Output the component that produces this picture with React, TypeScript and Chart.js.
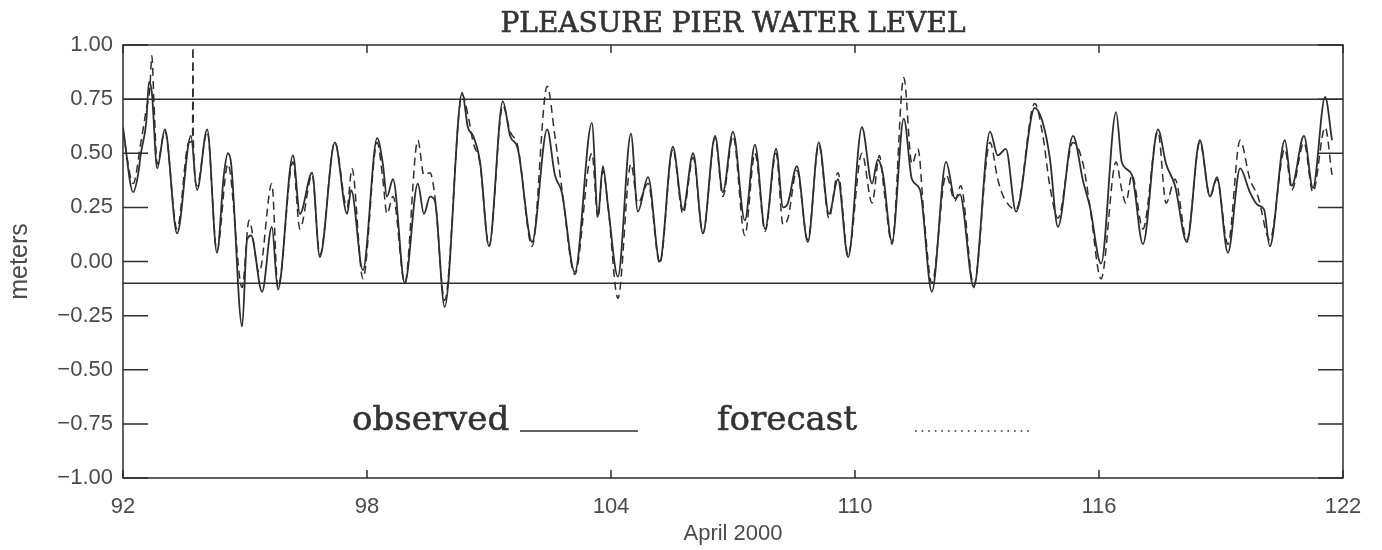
import React, { useEffect, useRef } from "react";
import { Chart, registerables } from "chart.js";

Chart.register(...registerables);

const TITLE = "PLEASURE PIER WATER LEVEL";
const X_LABEL = "April 2000";
const Y_LABEL = "meters";
const X_TICKS = [92, 98, 104, 110, 116, 122];
const Y_TICKS = [-1, -0.75, -0.5, -0.25, 0, 0.25, 0.5, 0.75, 1];
const REF_LINES = [0.75, -0.1];
const LEGEND_OBS = "observed";
const LEGEND_FC = "forecast";

const OBS_DAYS = [
  92.0, 92.25, 92.37, 92.44, 92.57, 92.64, 92.71, 92.84, 93.03, 93.33, 93.67, 93.82, 94.07, 94.31, 94.48, 94.58, 94.66,
  94.93, 95.05, 95.15, 95.42, 95.66, 95.81, 96.18, 96.35, 96.65, 96.84, 97.21, 97.51, 97.61, 97.9, 98.25, 98.39, 98.49,
  98.64, 98.93, 99.25, 99.4, 99.55, 99.67, 99.91, 100.34, 100.48, 100.61, 100.78, 101.0, 101.34, 101.52, 101.71, 102.06,
  102.43, 102.62, 102.79, 103.11, 103.53, 103.68, 103.8, 103.93, 104.17, 104.49, 104.66, 104.91, 105.2, 105.52, 105.77,
  106.02, 106.26, 106.56, 106.75, 107.0, 107.29, 107.54, 107.79, 108.06, 108.23, 108.35, 108.57, 108.84, 109.11, 109.36,
  109.58, 109.83, 110.17, 110.42, 110.56, 110.69, 110.91, 111.2, 111.4, 111.6, 111.89, 112.24, 112.46, 112.58, 112.92,
  113.32, 113.51, 113.71, 113.96, 114.42, 114.62, 114.79, 114.99, 115.36, 115.61, 115.78, 116.05, 116.42, 116.56, 116.81,
  117.08, 117.45, 117.65, 117.87, 118.16, 118.48, 118.73, 118.9, 119.17, 119.47, 119.71, 119.91, 120.06, 120.2, 120.57,
  120.74, 121.04, 121.26, 121.56, 121.73,
];
const OBS_LEVELS = [
  0.62, 0.32, 0.4, 0.5, 0.64, 0.83, 0.78, 0.43, 0.61, 0.13, 0.58, 0.33, 0.61, 0.04, 0.4, 0.5, 0.45,
  -0.3, 0.1, 0.12, -0.14, 0.16, -0.13, 0.49, 0.22, 0.41, 0.02, 0.55, 0.22, 0.33, -0.04, 0.57, 0.45, 0.3,
  0.38, -0.1, 0.36, 0.22, 0.3, 0.28, -0.21, 0.78, 0.62, 0.58, 0.46, 0.07, 0.74, 0.58, 0.52, 0.09,
  0.61, 0.4, 0.32, -0.05, 0.64, 0.21, 0.44, 0.25, -0.07, 0.59, 0.23, 0.39, 0.0, 0.53, 0.24,
  0.5, 0.13, 0.58, 0.32, 0.6, 0.19, 0.54, 0.15, 0.52, 0.25, 0.27, 0.44, 0.09, 0.55, 0.22,
  0.38, 0.02, 0.62, 0.36, 0.47, 0.4, 0.09, 0.66, 0.38, 0.33, -0.14, 0.46, 0.29, 0.31, -0.12,
  0.6, 0.49, 0.52, 0.23, 0.71, 0.64, 0.48, 0.16, 0.58, 0.37, 0.25, -0.01, 0.69, 0.46, 0.4,
  0.08, 0.61, 0.45, 0.35, 0.09, 0.56, 0.3, 0.39, 0.04, 0.43, 0.32, 0.26, 0.24, 0.07, 0.56,
  0.35, 0.58, 0.34, 0.76, 0.56,
];

const FC_DAYS = [
  92.0, 92.25, 92.44, 92.57, 92.66, 92.71, 92.76, 92.84, 93.03, 93.33, 93.62, 93.71, 93.72, 93.73, 93.82, 94.07, 94.31,
  94.58, 94.93, 95.1, 95.35, 95.66, 95.81, 96.18, 96.35, 96.65, 96.84, 97.21, 97.51, 97.63, 97.9, 98.25, 98.39, 98.49,
  98.64, 98.93, 99.25, 99.4, 99.55, 99.67, 99.91, 100.34, 100.5, 100.61, 100.78, 101.0, 101.34, 101.52, 101.71, 102.06,
  102.43, 102.62, 102.79, 103.11, 103.53, 103.68, 103.8, 103.93, 104.17, 104.49, 104.66, 104.91, 105.2, 105.52, 105.77,
  106.02, 106.26, 106.56, 106.75, 107.0, 107.29, 107.54, 107.79, 108.06, 108.23, 108.35, 108.57, 108.84, 109.11, 109.36,
  109.58, 109.83, 110.17, 110.42, 110.6, 110.72, 110.91, 111.2, 111.4, 111.55, 111.7, 111.89, 112.24, 112.46, 112.6,
  112.92, 113.32, 113.51, 113.65, 113.96, 114.42, 114.62, 114.79, 114.99, 115.36, 115.61, 115.78, 116.05, 116.42, 116.56,
  116.66, 116.81, 117.08, 117.45, 117.65, 117.87, 118.16, 118.48, 118.73, 118.9, 119.17, 119.47, 119.71, 119.91, 120.2,
  120.57, 120.74, 121.04, 121.26, 121.56, 121.73,
];
const FC_LEVELS = [
  0.6, 0.36, 0.55, 0.7, 0.8, 0.95, 0.74, 0.45, 0.6, 0.15, 0.55, 0.56, 1.05, 0.56, 0.35, 0.6, 0.05,
  0.45, -0.12, 0.19, -0.05, 0.36, -0.12, 0.46, 0.15, 0.4, 0.03, 0.55, 0.25, 0.43, -0.08, 0.55, 0.38, 0.22,
  0.3, -0.1, 0.56, 0.4, 0.41, 0.3, -0.18, 0.77, 0.66, 0.55, 0.45, 0.07, 0.72, 0.6, 0.53, 0.07,
  0.81, 0.58, 0.34, -0.06, 0.5, 0.2, 0.42, 0.25, -0.17, 0.45, 0.27, 0.36, -0.01, 0.52, 0.22,
  0.48, 0.13, 0.57, 0.3, 0.58, 0.12, 0.5, 0.14, 0.5, 0.17, 0.2, 0.42, 0.1, 0.54, 0.2,
  0.41, 0.03, 0.5, 0.27, 0.49, 0.32, 0.08, 0.85, 0.45, 0.52, 0.2, -0.1, 0.4, 0.28, 0.35,
  -0.11, 0.55, 0.38, 0.3, 0.24, 0.73, 0.58, 0.35, 0.2, 0.55, 0.45, 0.25, -0.08, 0.46, 0.33,
  0.27, 0.4, 0.15, 0.6, 0.27, 0.38, 0.1, 0.55, 0.3, 0.38, 0.08, 0.56, 0.38, 0.3, 0.1,
  0.52, 0.33, 0.55, 0.32, 0.62, 0.4,
];

const INK = "#2e2e2e";
const SANS = '"Liberation Sans", Arial, sans-serif';
const SERIF = '"DejaVu Serif", "Liberation Serif", serif';

function heavyText(ctx: CanvasRenderingContext2D, text: string, x: number, y: number) {
  ctx.fillText(text, x, y);
  ctx.lineWidth = 0.6;
  ctx.strokeText(text, x, y);
}

const framePlugin = {
  id: "frame",
  afterDraw(chart: any) {
    const { ctx, chartArea, scales } = chart;
    const { left, right, top, bottom } = chartArea;
    const xs = scales.x;
    const ys = scales.y;
    ctx.save();
    ctx.strokeStyle = INK;
    ctx.lineWidth = 1.5;
    ctx.setLineDash([]);
    REF_LINES.forEach((v) => {
      const y = ys.getPixelForValue(v);
      ctx.beginPath();
      ctx.moveTo(left, y);
      ctx.lineTo(right, y);
      ctx.stroke();
    });
    ctx.strokeRect(left, top, right - left, bottom - top);
    Y_TICKS.forEach((v) => {
      const y = ys.getPixelForValue(v);
      ctx.beginPath();
      ctx.moveTo(left, y);
      ctx.lineTo(left + 25, y);
      ctx.moveTo(right, y);
      ctx.lineTo(right - 25, y);
      ctx.stroke();
    });
    X_TICKS.forEach((v) => {
      const x = xs.getPixelForValue(v);
      ctx.beginPath();
      ctx.moveTo(x, bottom);
      ctx.lineTo(x, bottom - 8);
      ctx.moveTo(x, top);
      ctx.lineTo(x, top + 8);
      ctx.stroke();
    });
    ctx.fillStyle = "#333";
    ctx.strokeStyle = "#333";
    ctx.font = `28px ${SERIF}`;
    ctx.textAlign = "center";
    ctx.textBaseline = "alphabetic";
    heavyText(ctx, TITLE, (left + right) / 2, 32);
    const w = right - left;
    const ly = ys.getPixelForValue(-0.778);
    ctx.font = `34px ${SERIF}`;
    ctx.textAlign = "left";
    heavyText(ctx, LEGEND_OBS, left + w * 0.1877, ly);
    heavyText(ctx, LEGEND_FC, left + w * 0.4869, ly);
    ctx.strokeStyle = INK;
    ctx.lineWidth = 1.6;
    ctx.beginPath();
    ctx.moveTo(left + w * 0.3254, ly + 1);
    ctx.lineTo(left + w * 0.4221, ly + 1);
    ctx.stroke();
    ctx.setLineDash([1.6, 5]);
    ctx.beginPath();
    ctx.moveTo(left + w * 0.6492, ly + 1);
    ctx.lineTo(left + w * 0.7451, ly + 1);
    ctx.stroke();
    ctx.restore();
  },
};

export default function App() {
  const canvasRef = useRef<HTMLCanvasElement | null>(null);

  useEffect(() => {
    document.body.style.margin = "0";
    const canvas = canvasRef.current;
    if (!canvas) return;
    const obs = OBS_DAYS.map((d, i) => ({ x: d, y: OBS_LEVELS[i] }));
    const fc = FC_DAYS.map((d, i) => ({ x: d, y: FC_LEVELS[i] }));
    const chart = new Chart(canvas, {
      type: "line",
      data: {
        datasets: [
          {
            label: LEGEND_OBS,
            data: obs,
            borderColor: INK,
            borderWidth: 1.8,
            pointRadius: 0,
            fill: false,
            cubicInterpolationMode: "monotone",
          },
          {
            label: LEGEND_FC,
            data: fc,
            borderColor: INK,
            borderWidth: 1.5,
            borderDash: [8, 5],
            pointRadius: 0,
            fill: false,
            cubicInterpolationMode: "monotone",
          },
        ],
      },
      options: {
        animation: false,
        responsive: false,
        maintainAspectRatio: false,
        layout: { padding: { left: 0, right: 39, top: 45, bottom: 0 } },
        plugins: {
          legend: { display: false },
          title: { display: false },
          tooltip: { enabled: false },
        },
        scales: {
          x: {
            type: "linear",
            min: 92,
            max: 122,
            afterBuildTicks: (scale: any) => {
              scale.ticks = X_TICKS.map((v) => ({ value: v }));
            },
            afterFit: (scale: any) => {
              scale.height = 72;
            },
            grid: { display: false, drawTicks: false },
            border: { display: false },
            ticks: {
              font: { family: SANS, size: 22 },
              color: "#4a4a4a",
              padding: 16,
              maxRotation: 0,
              autoSkip: false,
            },
            title: {
              display: true,
              text: X_LABEL,
              font: { family: SANS, size: 22 },
              color: "#4a4a4a",
              padding: { top: 0, bottom: 3 },
            },
          },
          y: {
            min: -1,
            max: 1,
            afterBuildTicks: (scale: any) => {
              scale.ticks = Y_TICKS.map((v) => ({ value: v }));
            },
            afterFit: (scale: any) => {
              scale.width = 123;
            },
            grid: { display: false, drawTicks: false },
            border: { display: false },
            ticks: {
              font: { family: SANS, size: 22 },
              color: "#4a4a4a",
              padding: 10,
              autoSkip: false,
              callback: (v: any) => (Number(v) < 0 ? "\u2212" : "") + Math.abs(Number(v)).toFixed(2),
            },
            title: {
              display: true,
              text: Y_LABEL,
              font: { family: SANS, size: 25 },
              color: "#4a4a4a",
              padding: { top: 5, bottom: 0 },
            },
          },
        },
      },
      plugins: [framePlugin],
    });
    return () => chart.destroy();
  }, []);

  return <canvas ref={canvasRef} width={1382} height={550} style={{ display: "block" }} />;
}
